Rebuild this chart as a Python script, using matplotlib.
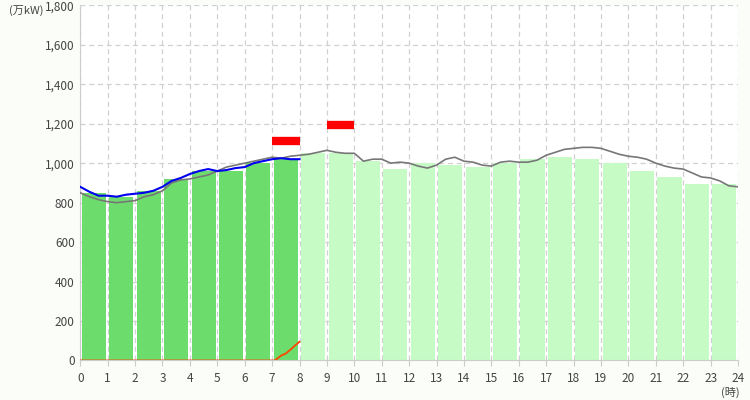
import matplotlib
matplotlib.use("Agg")
import matplotlib.pyplot as plt
import numpy as np

plt.rcParams['font.family'] = ['Noto Sans CJK JP', 'DejaVu Sans']

hours = list(range(24))
bar_vals = [850, 830, 860, 920, 960, 960, 1000, 1020, 1050, 1050, 1010, 970,
            1000, 990, 980, 1000, 1020, 1030, 1020, 1000, 960, 930, 895, 895]
actual_until = 8  # bars before this hour are dark

gray_vals = [850, 830, 815, 805, 800, 805, 810, 830, 840, 860, 900, 915,
             920, 930, 940, 960, 980, 990, 1000, 1010, 1020, 1030, 1025, 1035,
             1040, 1045, 1055, 1065, 1055, 1050, 1050, 1010, 1020, 1020, 1000, 1005,
             1000, 985, 975, 990, 1020, 1030, 1010, 1005, 990, 985, 1005, 1010,
             1005, 1005, 1015, 1040, 1055, 1070, 1075, 1080, 1080, 1075, 1060, 1045,
             1035, 1030, 1020, 1000, 985, 975, 970, 950, 930, 925, 910, 885, 880]
blue_vals = [880, 855, 835, 835, 830, 840, 845, 850, 860, 880, 910, 925,
             945, 960, 970, 960, 965, 975, 980, 1000, 1010, 1020, 1025, 1020, 1020]
solar_t = [0, 7.1, 7.33, 7.5, 7.67, 7.83, 8.0]
solar_v = [0, 0, 25, 35, 55, 75, 95]
peak_hours = [7, 9]
peak_vals = [1110, 1195]

fig = plt.figure(figsize=(7.5, 4.0), dpi=100, facecolor='#fbfdf8')
ax = fig.add_axes([0.107, 0.0988, 0.877, 0.888])
ax.set_facecolor('white')

for h, v in zip(hours, bar_vals):
    c = '#6cdc6c' if h < actual_until else '#c6fbc6'
    ax.bar(h + 0.5, v, width=0.88, color=c, zorder=2)

ax.plot(np.arange(len(gray_vals)) / 3, gray_vals, color='#777777', lw=1.2, zorder=3)
ax.plot(np.arange(len(blue_vals)) / 3, blue_vals, color='#0000ee', lw=1.5, zorder=4)
ax.plot(solar_t, solar_v, color='#ff4400', lw=1.3, zorder=4)
for h, v in zip(peak_hours, peak_vals):
    ax.plot([h, h + 1], [v, v], color='#ff0000', lw=6, solid_capstyle='butt', zorder=5)

ax.set_xlim(0, 24)
ax.set_ylim(0, 1800)
ax.set_xticks(range(25))
ax.set_yticks(range(0, 1801, 200))
ax.set_yticklabels([f'{v:,}' for v in range(0, 1801, 200)])
ax.grid(True, color='#d0d0d0', ls=(0, (4, 3)), lw=0.9, zorder=0)
for s in ['top', 'right']:
    ax.spines[s].set_visible(False)
for s in ['left', 'bottom']:
    ax.spines[s].set_color('#cccccc')
ax.tick_params(colors='#444444', labelsize=8.5, length=0, pad=4)
ax.tick_params(axis='x', length=4, color='#cccccc', labelcolor='#444444')
fig.text(0.012, 0.965, '(万kW)', fontsize=8, color='#444444')
fig.text(0.962, 0.01, '(時)', fontsize=8, color='#444444')

fig.savefig('out.png', dpi=100, facecolor=fig.get_facecolor())
